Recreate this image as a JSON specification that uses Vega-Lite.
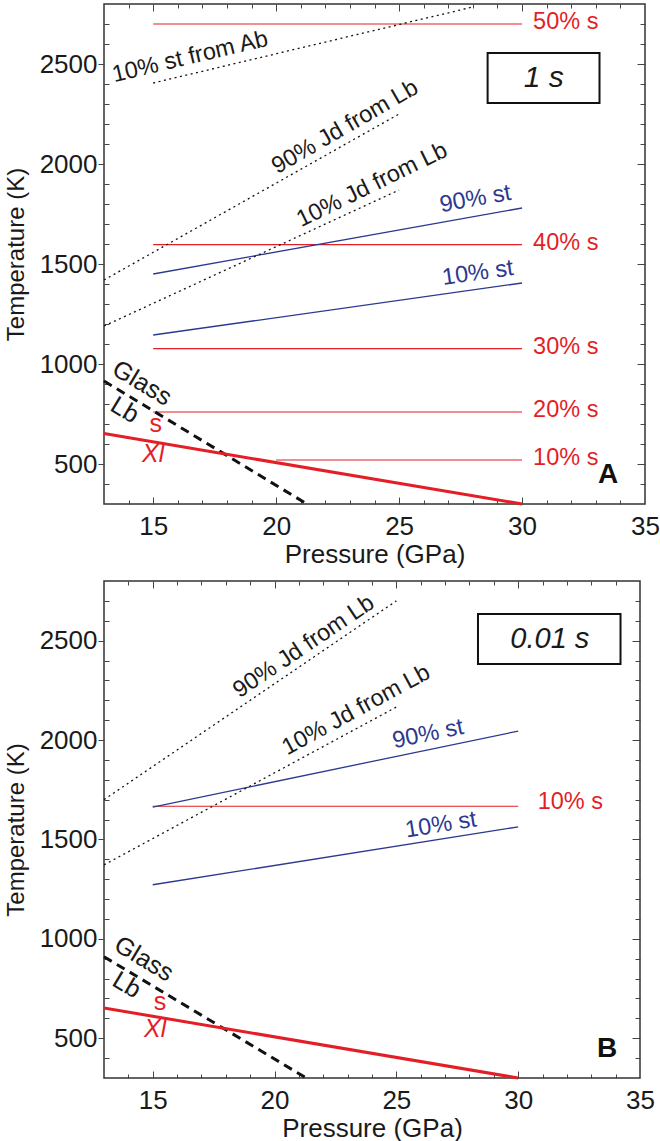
{
"$schema": "https://vega.github.io/schema/vega-lite/v6.json",
"padding": {"left": 3, "top": 2, "right": 5, "bottom": 5},
"bounds": "flush",
"spacing": 77,
"config": {
  "font": "Liberation Sans",
  "view": {"stroke": "#333", "strokeWidth": 1.5},
  "axis": {"grid": false, "domain": false, "tickColor": "#444", "tickWidth": 1, "labelColor": "#1a1a1a", "titleColor": "#1a1a1a", "labelFont": "Liberation Sans", "titleFont": "Liberation Sans", "titleFontWeight": "normal", "labelFontSize": 26, "titleFontSize": 26, "labelOverlap": false, "labelFlush": false, "labelBound": false, "format": "d"},
  "text": {"font": "Liberation Sans"}
},
"vconcat": [
{
  "width": 541, "height": 500,
  "resolve": {"axis": {"x": "independent", "y": "independent"}},
  "layer": [
    {"data": {"values": [
      {"name": "50% s", "p1": 15, "p2": 30, "t": 2700},
      {"name": "40% s", "p1": 15, "p2": 30, "t": 1597},
      {"name": "30% s", "p1": 15, "p2": 30, "t": 1077},
      {"name": "20% s", "p1": 15, "p2": 30, "t": 760},
      {"name": "10% s", "p1": 20, "p2": 30, "t": 520}]},
     "mark": {"type": "rule", "color": "#e41e26", "strokeWidth": 1.2},
     "encoding": {
       "x": {"field": "p1", "type": "quantitative", "scale": {"domain": [13, 35], "nice": false, "zero": false},
             "axis": {"orient": "bottom", "values": [15, 20, 25, 30, 35], "ticks": false, "labelPadding": 9, "title": "Pressure (GPa)", "titlePadding": 2}},
       "x2": {"field": "p2"},
       "y": {"field": "t", "type": "quantitative", "scale": {"domain": [300, 2800], "nice": false, "zero": false},
             "axis": {"orient": "left", "values": [500, 1000, 1500, 2000, 2500], "tickSize": 6, "labelPadding": 1, "title": "Temperature (K)", "titleFontSize": 24, "titlePadding": 11}}}},
    {"data": {"values": [
      {"name": "90% st", "p": 15, "t": 1450}, {"name": "90% st", "p": 30, "t": 1780},
      {"name": "10% st", "p": 15, "t": 1145}, {"name": "10% st", "p": 30, "t": 1405}]},
     "mark": {"type": "line", "color": "#2b3990", "strokeWidth": 1.3},
     "encoding": {
       "x": {"field": "p", "type": "quantitative", "scale": {"domain": [13, 35], "nice": false, "zero": false},
             "axis": {"orient": "bottom", "values": [15, 20, 25, 30], "tickSize": -7, "labels": false, "title": null}},
       "y": {"field": "t", "type": "quantitative", "scale": {"domain": [300, 2800], "nice": false, "zero": false},
             "axis": {"orient": "left", "values": [400, 600, 700, 800, 900, 1100, 1200, 1300, 1400, 1600, 1700, 1800, 1900, 2100, 2200, 2300, 2400, 2600, 2700], "tickSize": -5, "labels": false, "title": null}},
       "detail": {"field": "name"}}},
    {"data": {"values": [
      {"name": "10% st from Ab", "p": 15, "t": 2405}, {"name": "10% st from Ab", "p": 28, "t": 2785},
      {"name": "90% Jd from Lb", "p": 13, "t": 1420}, {"name": "90% Jd from Lb", "p": 25, "t": 2250},
      {"name": "10% Jd from Lb", "p": 13, "t": 1190}, {"name": "10% Jd from Lb", "p": 25, "t": 1870}]},
     "mark": {"type": "line", "color": "#111", "strokeWidth": 1.3, "strokeDash": [2, 3.5]},
     "encoding": {
       "x": {"field": "p", "type": "quantitative", "scale": {"domain": [13, 35], "nice": false, "zero": false},
             "axis": {"orient": "bottom", "values": [14, 16, 17, 18, 19, 21, 22, 23, 24, 26, 27, 28, 29, 31, 32, 33, 34], "tickSize": -4, "labels": false, "title": null}},
       "y": {"field": "t", "type": "quantitative", "scale": {"domain": [300, 2800], "nice": false, "zero": false},
             "axis": {"orient": "right", "values": [500, 1000, 1500, 2000, 2500], "tickSize": -8, "labels": false, "title": null}},
       "detail": {"field": "name"}}},
    {"data": {"values": [{"name": "Glass Lb", "p": 13, "t": 915}, {"name": "Glass Lb", "p": 21.25, "t": 300}]},
     "mark": {"type": "line", "color": "#111", "strokeWidth": 3, "strokeDash": [9, 6]},
     "encoding": {
       "x": {"field": "p", "type": "quantitative", "scale": {"domain": [13, 35], "nice": false, "zero": false},
             "axis": {"orient": "top", "values": [15, 20, 25, 30], "tickSize": -7, "labels": false, "title": null}},
       "y": {"field": "t", "type": "quantitative", "scale": {"domain": [300, 2800], "nice": false, "zero": false},
             "axis": {"orient": "right", "values": [400, 600, 700, 800, 900, 1100, 1200, 1300, 1400, 1600, 1700, 1800, 1900, 2100, 2200, 2300, 2400, 2600, 2700], "tickSize": -5, "labels": false, "title": null}}}},
    {"data": {"values": [{"name": "Xl s", "p": 13, "t": 652}, {"name": "Xl s", "p": 30, "t": 300}]},
     "mark": {"type": "line", "color": "#e41e26", "strokeWidth": 3},
     "encoding": {
       "x": {"field": "p", "type": "quantitative", "scale": {"domain": [13, 35], "nice": false, "zero": false},
             "axis": {"orient": "top", "values": [14, 16, 17, 18, 19, 21, 22, 23, 24, 26, 27, 28, 29, 31, 32, 33, 34], "tickSize": -4, "labels": false, "title": null}},
       "y": {"field": "t", "type": "quantitative", "scale": {"domain": [300, 2800], "nice": false, "zero": false}, "axis": null}}},
    {"data": {"values": [{"label": "box", "p1": 28.6, "p2": 33.15, "t1": 2305, "t2": 2555}]},
     "mark": {"type": "rect", "fill": "white", "stroke": "#111", "strokeWidth": 2},
     "encoding": {
       "x": {"field": "p1", "type": "quantitative", "scale": {"domain": [13, 35], "nice": false, "zero": false}, "axis": null},
       "x2": {"field": "p2"},
       "y": {"field": "t1", "type": "quantitative", "scale": {"domain": [300, 2800], "nice": false, "zero": false}, "axis": null},
       "y2": {"field": "t2"}}},
    {"data": {"values": [{"label": "1 s", "p": 30.88, "t": 2430}]},
     "mark": {"type": "text", "fontSize": 30, "fontStyle": "italic", "color": "#1a1a1a", "align": "center", "baseline": "middle"},
     "encoding": {"x": {"field": "p", "type": "quantitative", "axis": null}, "y": {"field": "t", "type": "quantitative", "axis": null}, "text": {"field": "label"}}},
    {"data": {"values": [
      {"label": "50% s", "p": 30.45, "t": 2700},
      {"label": "40% s", "p": 30.45, "t": 1597},
      {"label": "30% s", "p": 30.45, "t": 1077},
      {"label": "20% s", "p": 30.45, "t": 760},
      {"label": "10% s", "p": 30.45, "t": 520}]},
     "mark": {"type": "text", "fontSize": 23.5, "color": "#e41e26", "align": "left", "baseline": "middle", "dy": -2},
     "encoding": {"x": {"field": "p", "type": "quantitative", "axis": null}, "y": {"field": "t", "type": "quantitative", "axis": null}, "text": {"field": "label"}}},
    {"data": {"values": [{"label": "s", "p": 15.1, "t": 700}]},
     "mark": {"type": "text", "fontSize": 25, "color": "#e41e26", "align": "center", "baseline": "middle"},
     "encoding": {"x": {"field": "p", "type": "quantitative", "axis": null}, "y": {"field": "t", "type": "quantitative", "axis": null}, "text": {"field": "label"}}},
    {"data": {"values": [{"label": "Xl", "p": 15.0, "t": 550}]},
     "mark": {"type": "text", "fontSize": 25, "fontStyle": "italic", "color": "#e41e26", "align": "center", "baseline": "middle"},
     "encoding": {"x": {"field": "p", "type": "quantitative", "axis": null}, "y": {"field": "t", "type": "quantitative", "axis": null}, "text": {"field": "label"}}},
    {"data": {"values": [{"label": "A", "p": 33.5, "t": 445}]},
     "mark": {"type": "text", "fontSize": 28, "fontWeight": "bold", "color": "#111", "align": "center", "baseline": "middle"},
     "encoding": {"x": {"field": "p", "type": "quantitative", "axis": null}, "y": {"field": "t", "type": "quantitative", "axis": null}, "text": {"field": "label"}}},
    {"data": {"values": [{"label": "90% st", "p": 28.1, "t": 1825}]},
     "mark": {"type": "text", "fontSize": 23.5, "color": "#2b3990", "align": "center", "baseline": "middle", "angle": -10},
     "encoding": {"x": {"field": "p", "type": "quantitative", "axis": null}, "y": {"field": "t", "type": "quantitative", "axis": null}, "text": {"field": "label"}}},
    {"data": {"values": [{"label": "10% st", "p": 28.2, "t": 1455}]},
     "mark": {"type": "text", "fontSize": 23.5, "color": "#2b3990", "align": "center", "baseline": "middle", "angle": -8},
     "encoding": {"x": {"field": "p", "type": "quantitative", "axis": null}, "y": {"field": "t", "type": "quantitative", "axis": null}, "text": {"field": "label"}}},
    {"data": {"values": [{"label": "10% st from Ab", "p": 16.5, "t": 2535}]},
     "mark": {"type": "text", "fontSize": 23.5, "color": "#1a1a1a", "align": "center", "baseline": "middle", "angle": -13.3},
     "encoding": {"x": {"field": "p", "type": "quantitative", "axis": null}, "y": {"field": "t", "type": "quantitative", "axis": null}, "text": {"field": "label"}}},
    {"data": {"values": [{"label": "90% Jd from Lb", "p": 22.8, "t": 2185}]},
     "mark": {"type": "text", "fontSize": 23.5, "color": "#1a1a1a", "align": "center", "baseline": "middle", "angle": -30},
     "encoding": {"x": {"field": "p", "type": "quantitative", "axis": null}, "y": {"field": "t", "type": "quantitative", "axis": null}, "text": {"field": "label"}}},
    {"data": {"values": [{"label": "10% Jd from Lb", "p": 23.9, "t": 1895}]},
     "mark": {"type": "text", "fontSize": 23.5, "color": "#1a1a1a", "align": "center", "baseline": "middle", "angle": -26},
     "encoding": {"x": {"field": "p", "type": "quantitative", "axis": null}, "y": {"field": "t", "type": "quantitative", "axis": null}, "text": {"field": "label"}}},
    {"data": {"values": [{"label": "Glass", "p": 14.55, "t": 905}, {"label": "Lb", "p": 13.85, "t": 770}]},
     "mark": {"type": "text", "fontSize": 25, "color": "#1a1a1a", "align": "center", "baseline": "middle", "angle": 31},
     "encoding": {"x": {"field": "p", "type": "quantitative", "axis": null}, "y": {"field": "t", "type": "quantitative", "axis": null}, "text": {"field": "label"}}}
  ]
},
{
  "width": 536, "height": 497,
  "resolve": {"axis": {"x": "independent", "y": "independent"}},
  "layer": [
    {"data": {"values": [{"name": "10% s", "p1": 15, "p2": 30, "t": 1667}]},
     "mark": {"type": "rule", "color": "#e41e26", "strokeWidth": 1.2},
     "encoding": {
       "x": {"field": "p1", "type": "quantitative", "scale": {"domain": [13, 35], "nice": false, "zero": false},
             "axis": {"orient": "bottom", "values": [15, 20, 25, 30, 35], "ticks": false, "labelPadding": 9, "title": "Pressure (GPa)", "titlePadding": 2}},
       "x2": {"field": "p2"},
       "y": {"field": "t", "type": "quantitative", "scale": {"domain": [300, 2800], "nice": false, "zero": false},
             "axis": {"orient": "left", "values": [500, 1000, 1500, 2000, 2500], "tickSize": 6, "labelPadding": 1, "title": "Temperature (K)", "titleFontSize": 24, "titlePadding": 11}}}},
    {"data": {"values": [
      {"name": "90% st", "p": 15, "t": 1663}, {"name": "90% st", "p": 30, "t": 2045},
      {"name": "10% st", "p": 15, "t": 1272}, {"name": "10% st", "p": 30, "t": 1563}]},
     "mark": {"type": "line", "color": "#2b3990", "strokeWidth": 1.3},
     "encoding": {
       "x": {"field": "p", "type": "quantitative", "scale": {"domain": [13, 35], "nice": false, "zero": false},
             "axis": {"orient": "bottom", "values": [15, 20, 25, 30], "tickSize": -7, "labels": false, "title": null}},
       "y": {"field": "t", "type": "quantitative", "scale": {"domain": [300, 2800], "nice": false, "zero": false},
             "axis": {"orient": "left", "values": [400, 600, 700, 800, 900, 1100, 1200, 1300, 1400, 1600, 1700, 1800, 1900, 2100, 2200, 2300, 2400, 2600, 2700], "tickSize": -5, "labels": false, "title": null}},
       "detail": {"field": "name"}}},
    {"data": {"values": [
      {"name": "90% Jd from Lb", "p": 13, "t": 1700}, {"name": "90% Jd from Lb", "p": 25, "t": 2700},
      {"name": "10% Jd from Lb", "p": 13, "t": 1372}, {"name": "10% Jd from Lb", "p": 25, "t": 2166}]},
     "mark": {"type": "line", "color": "#111", "strokeWidth": 1.3, "strokeDash": [2, 3.5]},
     "encoding": {
       "x": {"field": "p", "type": "quantitative", "scale": {"domain": [13, 35], "nice": false, "zero": false},
             "axis": {"orient": "bottom", "values": [14, 16, 17, 18, 19, 21, 22, 23, 24, 26, 27, 28, 29, 31, 32, 33, 34], "tickSize": -4, "labels": false, "title": null}},
       "y": {"field": "t", "type": "quantitative", "scale": {"domain": [300, 2800], "nice": false, "zero": false},
             "axis": {"orient": "right", "values": [500, 1000, 1500, 2000, 2500], "tickSize": -8, "labels": false, "title": null}},
       "detail": {"field": "name"}}},
    {"data": {"values": [{"name": "Glass Lb", "p": 13, "t": 910}, {"name": "Glass Lb", "p": 21.3, "t": 300}]},
     "mark": {"type": "line", "color": "#111", "strokeWidth": 3, "strokeDash": [9, 6]},
     "encoding": {
       "x": {"field": "p", "type": "quantitative", "scale": {"domain": [13, 35], "nice": false, "zero": false},
             "axis": {"orient": "top", "values": [15, 20, 25, 30], "tickSize": -7, "labels": false, "title": null}},
       "y": {"field": "t", "type": "quantitative", "scale": {"domain": [300, 2800], "nice": false, "zero": false},
             "axis": {"orient": "right", "values": [400, 600, 700, 800, 900, 1100, 1200, 1300, 1400, 1600, 1700, 1800, 1900, 2100, 2200, 2300, 2400, 2600, 2700], "tickSize": -5, "labels": false, "title": null}}}},
    {"data": {"values": [{"name": "Xl s", "p": 13, "t": 652}, {"name": "Xl s", "p": 30, "t": 300}]},
     "mark": {"type": "line", "color": "#e41e26", "strokeWidth": 3},
     "encoding": {
       "x": {"field": "p", "type": "quantitative", "scale": {"domain": [13, 35], "nice": false, "zero": false},
             "axis": {"orient": "top", "values": [14, 16, 17, 18, 19, 21, 22, 23, 24, 26, 27, 28, 29, 31, 32, 33, 34], "tickSize": -4, "labels": false, "title": null}},
       "y": {"field": "t", "type": "quantitative", "scale": {"domain": [300, 2800], "nice": false, "zero": false}, "axis": null}}},
    {"data": {"values": [{"label": "box", "p1": 28.35, "p2": 34.2, "t1": 2382, "t2": 2634}]},
     "mark": {"type": "rect", "fill": "white", "stroke": "#111", "strokeWidth": 2},
     "encoding": {
       "x": {"field": "p1", "type": "quantitative", "scale": {"domain": [13, 35], "nice": false, "zero": false}, "axis": null},
       "x2": {"field": "p2"},
       "y": {"field": "t1", "type": "quantitative", "scale": {"domain": [300, 2800], "nice": false, "zero": false}, "axis": null},
       "y2": {"field": "t2"}}},
    {"data": {"values": [{"label": "0.01 s", "p": 31.3, "t": 2508}]},
     "mark": {"type": "text", "fontSize": 29, "fontStyle": "italic", "color": "#1a1a1a", "align": "center", "baseline": "middle"},
     "encoding": {"x": {"field": "p", "type": "quantitative", "axis": null}, "y": {"field": "t", "type": "quantitative", "axis": null}, "text": {"field": "label"}}},
    {"data": {"values": [{"label": "10% s", "p": 30.8, "t": 1667}]},
     "mark": {"type": "text", "fontSize": 23.5, "color": "#e41e26", "align": "left", "baseline": "middle", "dy": -4},
     "encoding": {"x": {"field": "p", "type": "quantitative", "axis": null}, "y": {"field": "t", "type": "quantitative", "axis": null}, "text": {"field": "label"}}},
    {"data": {"values": [{"label": "s", "p": 15.3, "t": 682}]},
     "mark": {"type": "text", "fontSize": 25, "color": "#e41e26", "align": "center", "baseline": "middle"},
     "encoding": {"x": {"field": "p", "type": "quantitative", "axis": null}, "y": {"field": "t", "type": "quantitative", "axis": null}, "text": {"field": "label"}}},
    {"data": {"values": [{"label": "Xl", "p": 15.1, "t": 547}]},
     "mark": {"type": "text", "fontSize": 25, "fontStyle": "italic", "color": "#e41e26", "align": "center", "baseline": "middle"},
     "encoding": {"x": {"field": "p", "type": "quantitative", "axis": null}, "y": {"field": "t", "type": "quantitative", "axis": null}, "text": {"field": "label"}}},
    {"data": {"values": [{"label": "B", "p": 33.65, "t": 446}]},
     "mark": {"type": "text", "fontSize": 28, "fontWeight": "bold", "color": "#111", "align": "center", "baseline": "middle"},
     "encoding": {"x": {"field": "p", "type": "quantitative", "axis": null}, "y": {"field": "t", "type": "quantitative", "axis": null}, "text": {"field": "label"}}},
    {"data": {"values": [{"label": "90% st", "p": 26.3, "t": 2030}]},
     "mark": {"type": "text", "fontSize": 23.5, "color": "#2b3990", "align": "center", "baseline": "middle", "angle": -11.7},
     "encoding": {"x": {"field": "p", "type": "quantitative", "axis": null}, "y": {"field": "t", "type": "quantitative", "axis": null}, "text": {"field": "label"}}},
    {"data": {"values": [{"label": "10% st", "p": 26.83, "t": 1573}]},
     "mark": {"type": "text", "fontSize": 23.5, "color": "#2b3990", "align": "center", "baseline": "middle", "angle": -9},
     "encoding": {"x": {"field": "p", "type": "quantitative", "axis": null}, "y": {"field": "t", "type": "quantitative", "axis": null}, "text": {"field": "label"}}},
    {"data": {"values": [{"label": "90% Jd from Lb", "p": 21.2, "t": 2470}]},
     "mark": {"type": "text", "fontSize": 23.5, "color": "#1a1a1a", "align": "center", "baseline": "middle", "angle": -34},
     "encoding": {"x": {"field": "p", "type": "quantitative", "axis": null}, "y": {"field": "t", "type": "quantitative", "axis": null}, "text": {"field": "label"}}},
    {"data": {"values": [{"label": "10% Jd from Lb", "p": 23.35, "t": 2151}]},
     "mark": {"type": "text", "fontSize": 23.5, "color": "#1a1a1a", "align": "center", "baseline": "middle", "angle": -28.5},
     "encoding": {"x": {"field": "p", "type": "quantitative", "axis": null}, "y": {"field": "t", "type": "quantitative", "axis": null}, "text": {"field": "label"}}},
    {"data": {"values": [{"label": "Glass", "p": 14.64, "t": 899}, {"label": "Lb", "p": 13.94, "t": 768}]},
     "mark": {"type": "text", "fontSize": 25, "color": "#1a1a1a", "align": "center", "baseline": "middle", "angle": 31},
     "encoding": {"x": {"field": "p", "type": "quantitative", "axis": null}, "y": {"field": "t", "type": "quantitative", "axis": null}, "text": {"field": "label"}}}
  ]
}
]
}
